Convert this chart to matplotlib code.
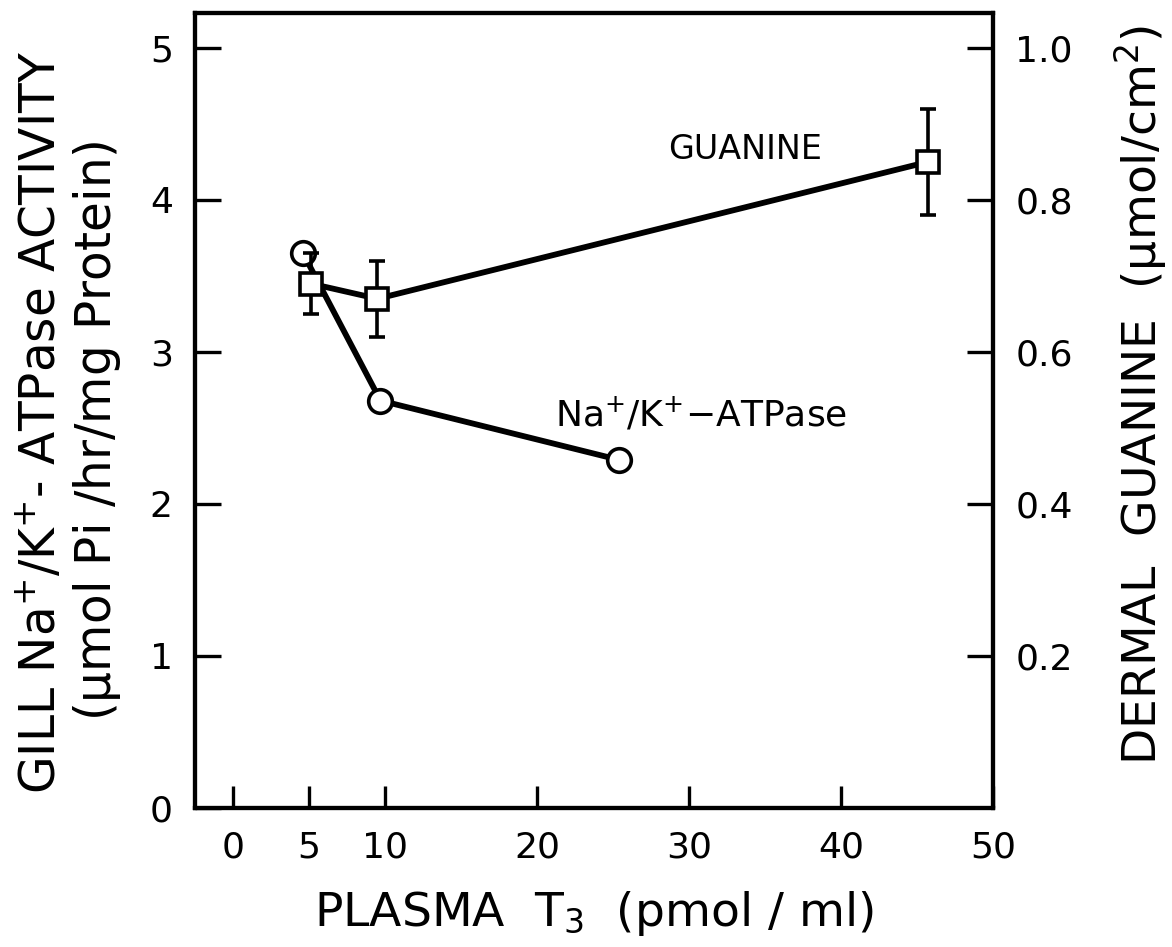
import numpy as np
import matplotlib
matplotlib.use("Agg")
import matplotlib.pyplot as plt
from matplotlib import rc

rc('font', **{'family': 'sans-serif', 'sans-serif': ['DejaVu Sans'], 'size': 26})
rc('mathtext', **{'default': 'regular'})

# Na+/K+-ATPase activity (left axis)
atpase_t3 = [4.6, 9.7, 25.4]
atpase_act = [3.65, 2.68, 2.29]

# dermal guanine (right axis)
guanine_t3 = [5.1, 9.5, 45.7]
guanine_val = [0.69, 0.67, 0.85]
guanine_err = [0.04, 0.05, 0.07]

x_ticks = [0, 5, 10, 20, 30, 40, 50]
left_ticks = [0, 1, 2, 3, 4, 5]
right_ticks = [0.2, 0.4, 0.6, 0.8, 1.0]
right_labels = ['0.2', '0.4', '0.6', '0.8', '1.0']

fig = plt.figure(figsize=(11.72, 9.47), dpi=100)
ax = fig.add_axes([0.1664, 0.1468, 0.6809, 0.8395])
ax2 = ax.twinx()

ax.plot(atpase_t3, atpase_act, marker='o', markersize=17, markerfacecolor='white',
        markeredgecolor='black', markeredgewidth=2.6, color='black', linewidth=4.2,
        zorder=3)

ax2.errorbar(guanine_t3, guanine_val, yerr=guanine_err, fmt='-s', color='black',
             markersize=16.5, markerfacecolor='white', markeredgecolor='black',
             markeredgewidth=2.6, linewidth=4.2, elinewidth=2.6, capsize=6,
             capthick=2.6, zorder=3)

ax.set_xlim(-2.5, 50)
ax.set_ylim(0, 5.23)
ax2.set_ylim(0, 5.23 / 5)

ax.set_xticks(x_ticks)
ax.set_yticks(left_ticks)
ax2.set_yticks(right_ticks)
ax2.set_yticklabels(right_labels)

for a in (ax, ax2):
    for s in a.spines.values():
        s.set_linewidth(3)
ax.tick_params(axis='x', direction='in', length=16, width=2.4, pad=16, labelsize=26)
ax.tick_params(axis='y', direction='in', length=19, width=2.4, pad=16, labelsize=26)
ax2.tick_params(axis='y', direction='in', length=19, width=2.4, pad=16, labelsize=26)

ax.text(33.7, 4.33, 'GUANINE', fontsize=24, ha='center', va='center')
ax.text(21.2, 2.59, 'Na$^{+}$/K$^{+}$$-$ATPase', fontsize=26, ha='left', va='center')

ax.set_xlabel('PLASMA  T$_3$  (pmol / ml)', fontsize=34, labelpad=18)
fig.text(0.035, 0.554, 'GILL Na$^{+}$/K$^{+}$- ATPase ACTIVITY', rotation=90,
         fontsize=35, ha='center', va='center')
fig.text(0.083, 0.545, '($\\mu$mol Pi /hr/mg Protein)', rotation=90,
         fontsize=35, ha='center', va='center')
fig.text(0.9727, 0.583, 'DERMAL  GUANINE  ($\\mu$mol/cm$^2$)', rotation=90,
         fontsize=34, ha='center', va='center')

plt.savefig('out.png', dpi=100)
